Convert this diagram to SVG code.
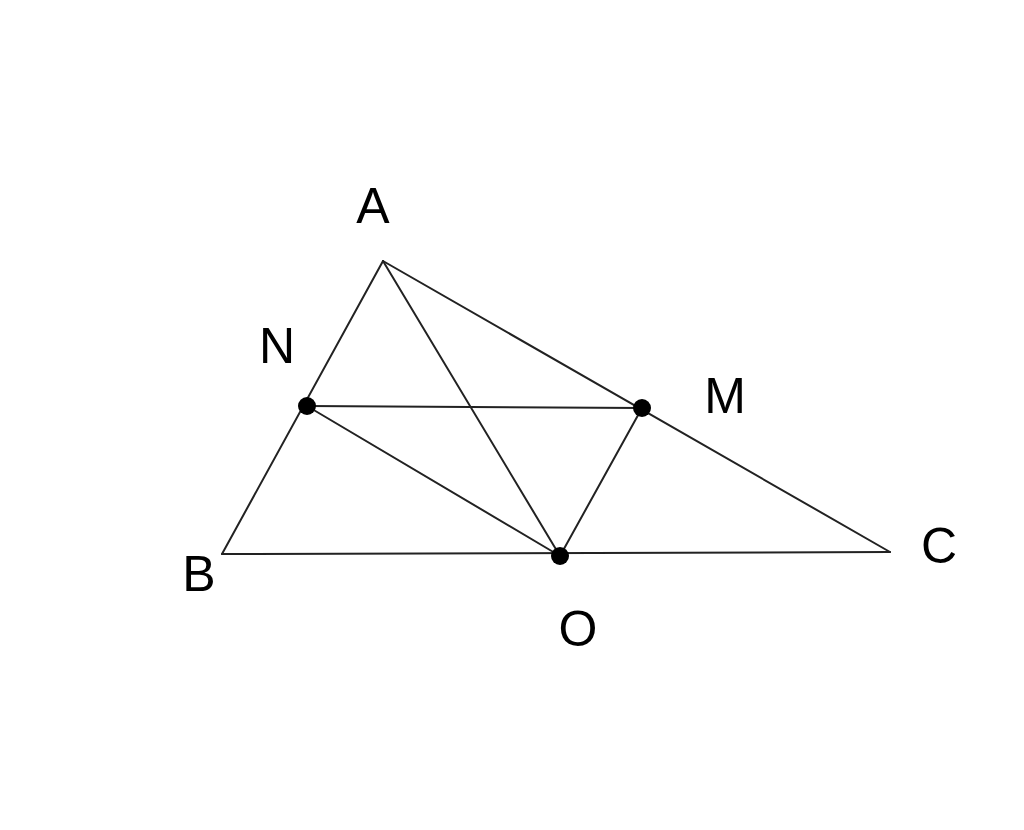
<svg xmlns="http://www.w3.org/2000/svg" width="1024" height="830" viewBox="0 0 1024 830">
<style>
.ln{stroke:#222;stroke-width:2;fill:none;stroke-linecap:round}
.pt{fill:#000}
.lb{font-family:"Liberation Sans",Arial,sans-serif;font-size:50px;fill:#000;text-anchor:middle}
</style>
<rect width="1024" height="830" fill="#fff"/>
<g id="connectors">
<line class="ln" x1="383" y1="261" x2="222" y2="554"/>
<line class="ln" x1="383" y1="261" x2="890" y2="552"/>
<line class="ln" x1="222" y1="554" x2="890" y2="552"/>
<line class="ln" x1="307" y1="406" x2="642" y2="408"/>
<line class="ln" x1="307" y1="406" x2="560" y2="556"/>
<line class="ln" x1="642" y1="408" x2="560" y2="556"/>
<line class="ln" x1="383" y1="261" x2="560" y2="556"/>
</g>
<g id="A"><text class="lb" x="373" y="223">A</text></g>
<g id="B"><text class="lb" x="199" y="591">B</text></g>
<g id="C"><text class="lb" x="939" y="563">C</text></g>
<g id="N"><circle class="pt" cx="307" cy="406" r="9"/><text class="lb" x="277" y="363">N</text></g>
<g id="M"><circle class="pt" cx="642" cy="408" r="9"/><text class="lb" x="725" y="413">M</text></g>
<g id="O"><circle class="pt" cx="560" cy="556" r="9"/><text class="lb" x="578" y="646">O</text></g>
</svg>
